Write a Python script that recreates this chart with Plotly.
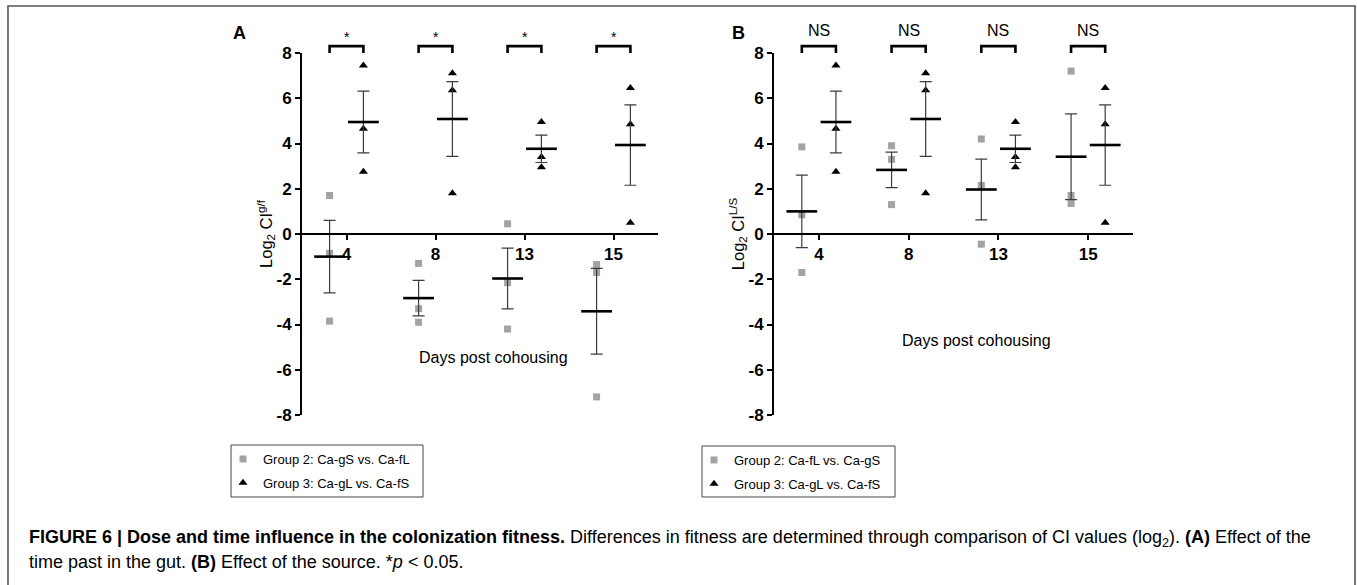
import numpy as np
import plotly.graph_objects as go

# ---------------- data ----------------
days = ["4", "8", "13", "15"]

a_group2 = [[1.7, -0.85, -3.85], [-1.3, -3.3, -3.9], [0.45, -2.15, -4.2], [-1.35, -1.7, -7.2]]
a_group3 = [[7.45, 4.65, 2.75], [7.1, 6.35, 1.8], [4.95, 3.4, 2.95], [6.45, 4.85, 0.5]]
b_group2 = [[3.85, 0.85, -1.7], [3.9, 3.3, 1.3], [4.2, 2.15, -0.45], [7.2, 1.7, 1.35]]
b_group3 = [[7.45, 4.65, 2.75], [7.1, 6.35, 1.8], [4.95, 3.4, 2.95], [6.45, 4.85, 0.5]]

a_sig = ["*", "*", "*", "*"]
b_sig = ["NS", "NS", "NS", "NS"]

legend_a = ["Group 2: Ca-gS vs. Ca-fL", "Group 3: Ca-gL vs. Ca-fS"]
legend_b = ["Group 2: Ca-fL vs. Ca-gS", "Group 3: Ca-gL vs. Ca-fS"]

y_ticks = [-8, -6, -4, -2, 0, 2, 4, 6, 8]
y_tick_labels = ["-8", "-6", "-4", "-2", "0", "2", "4", "6", "8"]

caption_1 = ("<b>FIGURE 6 | Dose and time influence in the colonization fitness.</b> "
             "Differences in fitness are determined through comparison of CI values "
             "(log<sub>2</sub>). <b>(A)</b> Effect of the")
caption_2 = "time past in the gut. <b>(B)</b> Effect of the source. *<i>p</i> &lt; 0.05."

# ---------------- layout helpers ----------------
W, H = 1357, 585
def px_x(p):
    return p / W
def px_y(p):
    return 1 - p / H

SANS = "Liberation Sans, Arial, Helvetica, sans-serif"
OFF = 0.19
SQ_COLOR = "#a3a3a3"

fig = go.Figure()

def add_group(vals, xa, ya, offset, symbol, color, size, name, legend, group):
    xs, ys = [], []
    for i, v in enumerate(vals):
        xs += [i + offset] * len(v)
        ys += v
    fig.add_trace(go.Scatter(
        x=xs, y=ys, mode="markers", name=name, legend=legend, legendgroup=group,
        xaxis=xa, yaxis=ya, cliponaxis=False,
        marker=dict(symbol=symbol, color=color, size=size, line=dict(width=0)),
    ))
    means = [float(np.mean(v)) for v in vals]
    sems = [float(np.std(v, ddof=1) / np.sqrt(len(v))) for v in vals]
    fig.add_trace(go.Scatter(
        x=[i + offset for i in range(len(vals))], y=means, mode="markers",
        showlegend=False, xaxis=xa, yaxis=ya, cliponaxis=False,
        marker=dict(symbol="line-ew", size=22, color="black",
                    line=dict(width=2.6, color="black")),
        error_y=dict(type="data", array=sems, visible=True,
                     color="#3c3c3c", thickness=1.2, width=6),
    ))

add_group(a_group2, "x", "y", -OFF, "square", SQ_COLOR, 7, legend_a[0], "legend", "a2")
add_group(a_group3, "x", "y", OFF, "triangle-up", "black", 8, legend_a[1], "legend", "a3")
add_group(b_group2, "x2", "y2", -OFF, "square", SQ_COLOR, 7, legend_b[0], "legend2", "b2")
add_group(b_group3, "x2", "y2", OFF, "triangle-up", "black", 8, legend_b[1], "legend2", "b3")

ydom = [px_y(415), px_y(53)]
xpos = (ydom[0] + ydom[1]) / 2

TICKFONT = dict(family=SANS, size=17, color="black", weight="bold")

def xaxis_cfg(dom):
    return dict(domain=dom, range=[-0.5, 3.5], tickvals=list(range(len(days))),
                ticktext=days, anchor="free", position=xpos, automargin=False,
                showline=True, linewidth=2, linecolor="black",
                ticks="outside", ticklen=5, tickwidth=2, tickcolor="black",
                showgrid=False, zeroline=False, tickfont=TICKFONT)

def yaxis_cfg(anchor, title):
    return dict(domain=ydom, range=[-8, 8], tickvals=y_ticks, ticktext=y_tick_labels,
                anchor=anchor, automargin=False,
                showline=True, linewidth=2, linecolor="black",
                ticks="outside", ticklen=5, tickwidth=2, tickcolor="black",
                showgrid=False, zeroline=False, tickfont=TICKFONT,
                title=dict(text=title, standoff=0,
                           font=dict(family=SANS, size=16.5, color="black")))

LEGFONT = dict(family=SANS, size=13, color="black")

fig.update_layout(
    template="none",
    width=W, height=H, margin=dict(l=0, r=0, t=0, b=0, pad=0),
    paper_bgcolor="white", plot_bgcolor="white",
    font=dict(family=SANS, color="black"),
    xaxis=xaxis_cfg([px_x(302), px_x(658)]),
    yaxis=yaxis_cfg("x", "Log<sub>2</sub> CI<sup>g/f</sup>"),
    xaxis2=xaxis_cfg([px_x(774), px_x(1133)]),
    yaxis2=yaxis_cfg("x2", "Log<sub>2</sub> CI<sup>L/S</sup>"),
    legend=dict(x=px_x(223), y=px_y(444), xanchor="left", yanchor="top",
                bgcolor="rgba(0,0,0,0)", borderwidth=0, tracegroupgap=4,
                font=LEGFONT),
    legend2=dict(x=px_x(694), y=px_y(445), xanchor="left", yanchor="top",
                 bgcolor="rgba(0,0,0,0)", borderwidth=0, tracegroupgap=4,
                 font=LEGFONT),
)

shapes = []
annotations = []
for xa, ya, sig, sigsize, sigy in [("x", "y", a_sig, 14, 1.045), ("x2", "y2", b_sig, 16, 1.062)]:
    for i, s in enumerate(sig):
        shapes.append(dict(type="path", xref=xa, yref=ya + " domain",
                           path=f"M {i-OFF},1 L {i-OFF},1.019 L {i+OFF},1.019 L {i+OFF},1",
                           line=dict(color="black", width=2.6)))
        annotations.append(dict(x=i, y=sigy, xref=xa, yref=ya + " domain", text=s,
                                xanchor="center", yanchor="middle", showarrow=False,
                                font=dict(family=SANS, size=sigsize, color="black")))

annotations.append(dict(x=1.65, y=-5.45, xref="x", yref="y", text="Days post cohousing",
                        xanchor="center", yanchor="middle",
                        showarrow=False, font=dict(family=SANS, size=16, color="black")))
annotations.append(dict(x=1.76, y=-4.7, xref="x2", yref="y2", text="Days post cohousing",
                        xanchor="center", yanchor="middle",
                        showarrow=False, font=dict(family=SANS, size=16, color="black")))
annotations.append(dict(x=px_x(239), y=px_y(33), xref="paper", yref="paper", text="<b>A</b>",
                        xanchor="center", yanchor="middle",
                        showarrow=False, font=dict(family=SANS, size=18, color="black")))
annotations.append(dict(x=px_x(738), y=px_y(33), xref="paper", yref="paper", text="<b>B</b>",
                        xanchor="center", yanchor="middle",
                        showarrow=False, font=dict(family=SANS, size=18, color="black")))
annotations.append(dict(x=px_x(27), y=px_y(538), xref="paper", yref="paper", text=caption_1,
                        xanchor="left", yanchor="middle", showarrow=False,
                        font=dict(family=SANS, size=18, color="black")))
annotations.append(dict(x=px_x(27), y=px_y(562), xref="paper", yref="paper", text=caption_2,
                        xanchor="left", yanchor="middle", showarrow=False,
                        font=dict(family=SANS, size=18, color="black")))

# legend boxes and outer frame
shapes.append(dict(type="rect", xref="paper", yref="paper", x0=px_x(231), x1=px_x(423),
                   y0=px_y(497), y1=px_y(445), line=dict(color="#444", width=1)))
shapes.append(dict(type="rect", xref="paper", yref="paper", x0=px_x(702), x1=px_x(895),
                   y0=px_y(497), y1=px_y(446), line=dict(color="#444", width=1)))
shapes.append(dict(type="rect", xref="paper", yref="paper", x0=px_x(8), x1=px_x(1355),
                   y0=px_y(590), y1=px_y(6), line=dict(color="#555", width=1.6)))

fig.update_layout(shapes=shapes, annotations=annotations)
fig.write_html("out.html")
